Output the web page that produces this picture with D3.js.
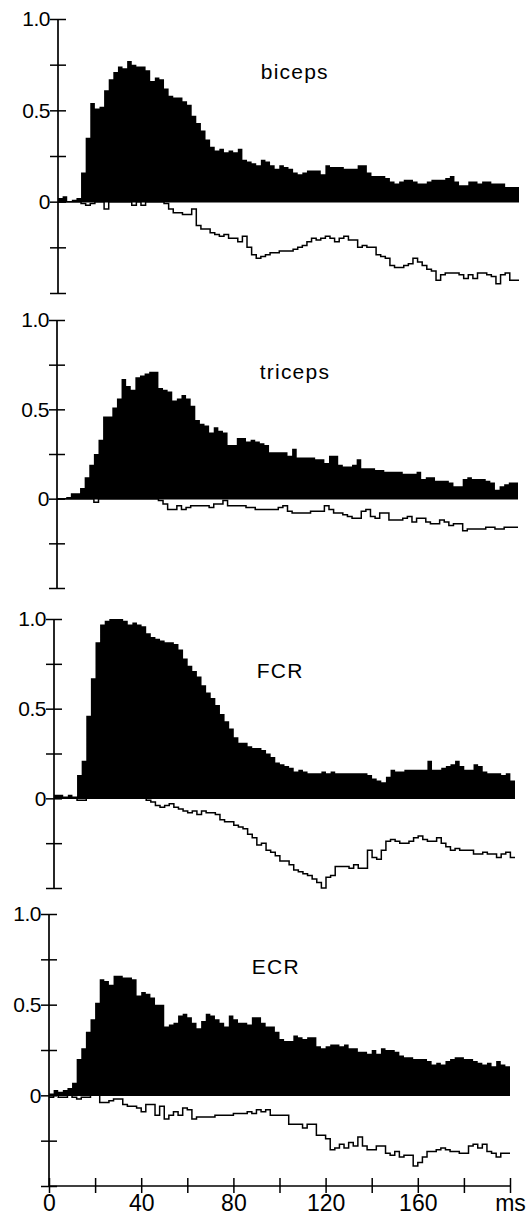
<!DOCTYPE html>
<html>
<head>
<meta charset="utf-8">
<script src="https://cdn.jsdelivr.net/npm/d3@7"></script>
<style>
  body { margin: 0; background: #fff; }
  svg { display: block; font-family: "Liberation Sans", Arial, Helvetica, sans-serif; }
</style>
</head>
<body>
<div id="chart"></div>
<script>
// bins are 2 ms wide, 0..200 ms
const binWidth = 2

const muscles = ['biceps', 'triceps', 'FCR', 'ECR']

const bicepsFill = [
  0.02, 0.03, 0.00, 0.01, 0.02, 0.16, 0.35, 0.54, 0.51, 0.52,
  0.61, 0.67, 0.71, 0.74, 0.73, 0.77, 0.75, 0.74, 0.74, 0.72,
  0.66, 0.68, 0.67, 0.62, 0.58, 0.57, 0.57, 0.55, 0.53, 0.47,
  0.43, 0.39, 0.34, 0.30, 0.28, 0.29, 0.27, 0.28, 0.27, 0.29,
  0.23, 0.22, 0.21, 0.20, 0.23, 0.22, 0.20, 0.18, 0.20, 0.19,
  0.18, 0.16, 0.15, 0.16, 0.17, 0.17, 0.17, 0.15, 0.20, 0.19,
  0.19, 0.19, 0.18, 0.18, 0.18, 0.20, 0.20, 0.16, 0.14, 0.14,
  0.14, 0.13, 0.11, 0.10, 0.11, 0.12, 0.12, 0.11, 0.10, 0.10,
  0.11, 0.12, 0.12, 0.12, 0.13, 0.14, 0.11, 0.09, 0.09, 0.11,
  0.11, 0.10, 0.11, 0.11, 0.10, 0.10, 0.10, 0.08, 0.08, 0.08
]
const bicepsNeg = [
  0, 0, 0, 0, 0, -0.01, -0.02, -0.01, 0, 0,
  -0.04, 0, 0, 0, 0, 0, -0.02, 0, -0.02, 0,
  0, 0, 0, -0.01, -0.04, -0.06, -0.06, -0.07, -0.07, -0.04,
  -0.13, -0.15, -0.15, -0.17, -0.18, -0.19, -0.18, -0.20, -0.20, -0.22,
  -0.19, -0.25, -0.29, -0.31, -0.30, -0.29, -0.28, -0.28, -0.27, -0.27,
  -0.27, -0.26, -0.25, -0.24, -0.22, -0.20, -0.21, -0.20, -0.19, -0.20,
  -0.22, -0.20, -0.19, -0.21, -0.21, -0.25, -0.24, -0.25, -0.25, -0.29,
  -0.30, -0.31, -0.35, -0.36, -0.36, -0.35, -0.34, -0.31, -0.33, -0.35,
  -0.37, -0.38, -0.43, -0.40, -0.39, -0.39, -0.39, -0.40, -0.42, -0.40,
  -0.42, -0.39, -0.39, -0.40, -0.41, -0.45, -0.40, -0.39, -0.43, -0.43
]

const tricepsFill = [
  0.00, 0.00, 0.01, 0.03, 0.03, 0.06, 0.12, 0.19, 0.25, 0.33,
  0.46, 0.46, 0.51, 0.56, 0.67, 0.63, 0.61, 0.68, 0.69, 0.70,
  0.71, 0.71, 0.62, 0.61, 0.60, 0.55, 0.56, 0.58, 0.56, 0.52,
  0.44, 0.42, 0.41, 0.37, 0.40, 0.38, 0.37, 0.30, 0.30, 0.34,
  0.34, 0.32, 0.33, 0.32, 0.31, 0.30, 0.26, 0.26, 0.26, 0.26,
  0.24, 0.28, 0.23, 0.23, 0.23, 0.23, 0.22, 0.22, 0.20, 0.24,
  0.24, 0.19, 0.18, 0.18, 0.19, 0.22, 0.17, 0.17, 0.17, 0.16,
  0.16, 0.15, 0.15, 0.15, 0.15, 0.14, 0.14, 0.14, 0.15, 0.11,
  0.12, 0.12, 0.10, 0.10, 0.10, 0.09, 0.07, 0.07, 0.11, 0.12,
  0.11, 0.11, 0.11, 0.10, 0.09, 0.05, 0.07, 0.08, 0.09, 0.09
]
const tricepsNeg = [
  0, 0, 0, 0, 0, 0, 0, 0, -0.02, 0,
  0, 0, 0, 0, 0, 0, 0, 0, 0, 0,
  0, 0, -0.01, -0.03, -0.06, -0.06, -0.04, -0.06, -0.05, -0.04,
  -0.04, -0.04, -0.04, -0.05, -0.03, -0.03, -0.01, -0.04, -0.04, -0.04,
  -0.04, -0.05, -0.05, -0.06, -0.06, -0.06, -0.06, -0.06, -0.05, -0.04,
  -0.07, -0.08, -0.08, -0.08, -0.08, -0.07, -0.07, -0.07, -0.04, -0.06,
  -0.08, -0.08, -0.09, -0.10, -0.11, -0.11, -0.07, -0.06, -0.10, -0.11,
  -0.08, -0.08, -0.12, -0.12, -0.12, -0.11, -0.10, -0.13, -0.11, -0.11,
  -0.13, -0.14, -0.14, -0.12, -0.13, -0.15, -0.14, -0.14, -0.18, -0.17,
  -0.17, -0.17, -0.17, -0.16, -0.16, -0.17, -0.17, -0.16, -0.16, -0.16
]

const fcrFill = [
  0.02, 0.02, 0.01, 0.02, 0.01, 0.13, 0.21, 0.46, 0.67, 0.87,
  0.97, 0.99, 1.00, 1.00, 1.00, 0.99, 0.97, 0.98, 0.97, 0.96,
  0.92, 0.90, 0.89, 0.88, 0.87, 0.87, 0.86, 0.83, 0.78, 0.74,
  0.71, 0.68, 0.63, 0.59, 0.56, 0.52, 0.47, 0.43, 0.39, 0.34,
  0.31, 0.31, 0.29, 0.28, 0.28, 0.27, 0.25, 0.23, 0.20, 0.19,
  0.18, 0.17, 0.15, 0.16, 0.15, 0.14, 0.14, 0.14, 0.15, 0.14,
  0.15, 0.14, 0.14, 0.14, 0.14, 0.14, 0.14, 0.14, 0.13, 0.11,
  0.10, 0.09, 0.12, 0.16, 0.15, 0.15, 0.16, 0.16, 0.16, 0.16,
  0.16, 0.21, 0.16, 0.16, 0.17, 0.18, 0.19, 0.21, 0.18, 0.16,
  0.16, 0.19, 0.18, 0.15, 0.14, 0.14, 0.14, 0.13, 0.14, 0.10
]
const fcrNeg = [
  0, 0, 0, 0, 0, -0.01, -0.01, 0, 0, 0,
  0, 0, 0, 0, 0, 0, 0, 0, 0, 0,
  -0.01, -0.02, -0.04, -0.05, -0.04, -0.03, -0.05, -0.06, -0.07, -0.08,
  -0.07, -0.09, -0.07, -0.08, -0.08, -0.09, -0.12, -0.13, -0.13, -0.15,
  -0.16, -0.17, -0.20, -0.22, -0.26, -0.25, -0.29, -0.30, -0.32, -0.35,
  -0.35, -0.37, -0.40, -0.41, -0.42, -0.43, -0.45, -0.47, -0.50, -0.44,
  -0.43, -0.38, -0.38, -0.38, -0.39, -0.37, -0.39, -0.39, -0.29, -0.33,
  -0.34, -0.29, -0.24, -0.23, -0.24, -0.25, -0.25, -0.24, -0.22, -0.21,
  -0.23, -0.24, -0.24, -0.22, -0.25, -0.27, -0.29, -0.28, -0.29, -0.29,
  -0.29, -0.31, -0.31, -0.30, -0.31, -0.31, -0.33, -0.31, -0.30, -0.33
]

const ecrFill = [
  0.01, 0.03, 0.02, 0.03, 0.04, 0.07, 0.20, 0.26, 0.35, 0.42,
  0.51, 0.64, 0.63, 0.61, 0.66, 0.66, 0.65, 0.65, 0.64, 0.55,
  0.57, 0.56, 0.54, 0.50, 0.50, 0.38, 0.39, 0.40, 0.44, 0.45,
  0.43, 0.40, 0.37, 0.41, 0.45, 0.44, 0.42, 0.40, 0.38, 0.44,
  0.42, 0.40, 0.40, 0.39, 0.43, 0.43, 0.40, 0.38, 0.38, 0.35,
  0.31, 0.30, 0.30, 0.33, 0.32, 0.31, 0.32, 0.32, 0.27, 0.26,
  0.27, 0.28, 0.28, 0.27, 0.28, 0.26, 0.26, 0.24, 0.24, 0.23,
  0.25, 0.23, 0.26, 0.25, 0.25, 0.24, 0.22, 0.21, 0.21, 0.20,
  0.20, 0.20, 0.19, 0.17, 0.18, 0.17, 0.19, 0.20, 0.21, 0.21,
  0.20, 0.20, 0.19, 0.18, 0.17, 0.18, 0.16, 0.19, 0.17, 0.16
]
const ecrNeg = [
  -0.01, 0, -0.01, -0.01, 0, -0.01, -0.02, -0.01, -0.01, 0,
  0, -0.04, -0.04, -0.03, -0.02, -0.02, -0.05, -0.06, -0.06, -0.07,
  -0.09, -0.05, -0.05, -0.11, -0.06, -0.13, -0.11, -0.09, -0.11, -0.07,
  -0.08, -0.13, -0.12, -0.12, -0.12, -0.12, -0.11, -0.11, -0.11, -0.11,
  -0.10, -0.10, -0.10, -0.09, -0.10, -0.08, -0.09, -0.08, -0.11, -0.11,
  -0.11, -0.11, -0.16, -0.16, -0.16, -0.18, -0.16, -0.16, -0.22, -0.22,
  -0.24, -0.30, -0.29, -0.27, -0.29, -0.26, -0.28, -0.23, -0.28, -0.30,
  -0.30, -0.28, -0.28, -0.32, -0.33, -0.31, -0.34, -0.33, -0.33, -0.39,
  -0.37, -0.34, -0.31, -0.31, -0.30, -0.29, -0.30, -0.31, -0.31, -0.32,
  -0.32, -0.28, -0.27, -0.29, -0.27, -0.31, -0.32, -0.34, -0.32, -0.32
]

const fills = [bicepsFill, tricepsFill, fcrFill, ecrFill]
const negs = [bicepsNeg, tricepsNeg, fcrNeg, ecrNeg]

const yTicks = [-0.5, -0.25, 0, 0.25, 0.5, 0.75, 1.0]
const yLabels = { '0': '0', '0.5': '0.5', '1': '1.0' }
const xTicks = [0, 20, 40, 60, 80, 100, 120, 140, 160, 180, 200]
const xLabels = { 0: '0', 40: '40', 80: '80', 120: '120', 160: '160', 200: 'ms' }

// panel placement (the scanned original is slightly skewed)
const panelTop = [19, 320, 619, 914]
const panelBottom = [293, 588, 888, 1186]
const panelLeft = [58, 57, 54, 49]
const plotWidth = 461

const svg = d3.select('#chart')
  .append('svg')
  .attr('width', 532)
  .attr('height', 1219)

muscles.forEach((name, i) => {
  const x = d3.scaleLinear()
    .domain([0, 200])
    .range([panelLeft[i], panelLeft[i] + plotWidth])
  const y = d3.scaleLinear()
    .domain([-0.5, 1.0])
    .range([panelBottom[i], panelTop[i]])

  const g = svg.append('g')

  // step data: each bin starts at its time, closing point at 200 ms
  const pts = vals => {
    const p = vals.map((v, k) => ({ t: k * binWidth, v }))
    p.push({ t: vals.length * binWidth, v: vals[vals.length - 1] })
    return p
  }

  const area = d3.area()
    .curve(d3.curveStepAfter)
    .x(d => x(d.t))
    .y0(y(0))
    .y1(d => y(Math.max(d.v, 0)))

  g.append('path')
    .datum(pts(fills[i]))
    .attr('d', area)
    .attr('fill', '#000')

  // baseline at zero
  g.append('line')
    .attr('x1', x(0)).attr('x2', x(200))
    .attr('y1', y(0)).attr('y2', y(0))
    .attr('stroke', '#000')
    .attr('stroke-width', 1.5)

  const line = d3.line()
    .curve(d3.curveStepAfter)
    .x(d => x(d.t))
    .y(d => y(d.v))

  g.append('path')
    .datum(pts(negs[i]))
    .attr('d', line)
    .attr('fill', 'none')
    .attr('stroke', '#000')
    .attr('stroke-width', 1.5)

  // y axis
  const yAxis = g.append('g')
    .attr('transform', `translate(${x(0)},0)`)
    .call(d3.axisLeft(y)
      .tickValues(yTicks)
      .tickSize(8)
      .tickFormat(d => yLabels[String(d)] || ''))
  yAxis.select('.domain')
    .attr('d', `M0,${y(-0.5)}V${y(1.0)}`)
    .attr('stroke-width', 1.7)
  yAxis.selectAll('.tick line')
    .attr('x1', -8).attr('x2', 8)
    .attr('stroke-width', 1.5)
  yAxis.selectAll('.tick text')
    .attr('x', -8)
    .attr('font-size', 21)
    .attr('letter-spacing', -0.5)
    .attr('font-family', '"Liberation Sans", Arial, sans-serif')
    .attr('fill', '#000')

  // muscle label
  g.append('text')
    .attr('x', x(88))
    .attr('y', y(0.67))
    .attr('font-size', 21)
    .attr('letter-spacing', 1.2)
    .text(name)

  // x axis only under the last panel
  if (i === muscles.length - 1) {
    const xAxis = g.append('g')
      .attr('transform', `translate(0,${y(-0.5)})`)
      .call(d3.axisBottom(x)
        .tickValues(xTicks)
        .tickSize(7)
        .tickFormat(d => xLabels[d] || ''))
    xAxis.select('.domain')
      .attr('d', `M${x(0)},0H${x(200)}`)
      .attr('stroke-width', 1.7)
    xAxis.selectAll('.tick line')
      .attr('y1', -8).attr('y2', 7)
      .attr('stroke-width', 1.5)
    xAxis.selectAll('.tick text')
      .attr('y', 9)
      .attr('font-size', 23)
      .attr('font-family', '"Liberation Sans", Arial, sans-serif')
      .attr('fill', '#000')
  }
})
</script>
</body>
</html>
